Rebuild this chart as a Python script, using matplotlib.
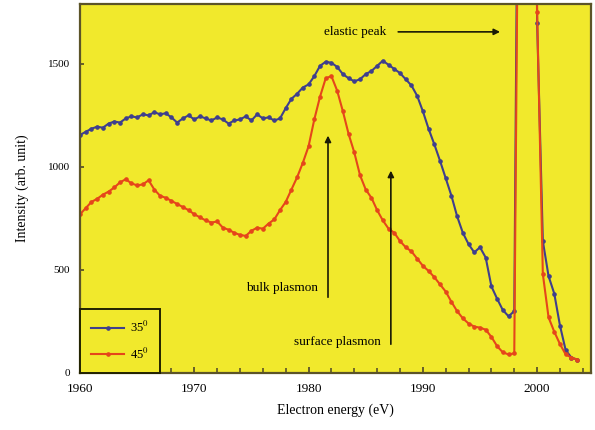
import numpy as np
import matplotlib
matplotlib.use('Agg')
from matplotlib import pyplot as plt
from matplotlib.ticker import MultipleLocator

plt.rcParams['font.family'] = ['Liberation Serif', 'DejaVu Serif']
plt.rcParams['mathtext.fontset'] = 'stix'

# energy grid (eV), 0.5 eV steps
energy = np.arange(1960.0, 2003.75, 0.5)

# 35 degree spectrum
i_35 = [1155, 1170, 1185, 1195, 1190, 1210, 1220, 1215, 1235, 1245,
        1240, 1255, 1250, 1265, 1255, 1260, 1240, 1215, 1235, 1250,
        1230, 1245, 1235, 1225, 1240, 1230, 1210, 1225, 1230, 1245,
        1225, 1255, 1235, 1240, 1225, 1235, 1285, 1330, 1355, 1385,
        1400, 1440, 1490, 1510, 1505, 1485, 1450, 1430, 1415, 1425,
        1450, 1465, 1490, 1515, 1495, 1475, 1455, 1425, 1395, 1345,
        1270, 1185, 1110, 1030, 945, 860, 760, 680, 625, 585,
        610, 560, 420, 360, 305, 275, 300, 4000, 6000, 5000,
        1700, 640, 470, 385, 230, 110, 75, 65]

# 45 degree spectrum
i_45 = [770, 800, 830, 845, 865, 880, 900, 925, 940, 920,
        910, 915, 935, 890, 860, 850, 835, 820, 805, 790,
        770, 755, 740, 730, 735, 705, 695, 680, 670, 665,
        690, 705, 700, 725, 745, 790, 830, 890, 950, 1020,
        1100, 1230, 1340, 1430, 1440, 1370, 1270, 1160, 1070, 960,
        890, 850, 790, 740, 700, 680, 640, 610, 590, 555,
        520, 495, 465, 430, 395, 345, 300, 265, 240, 225,
        220, 210, 175, 130, 100, 90, 95, 3500, 5500, 5000,
        1750, 480, 270, 200, 140, 90, 75, 65]

labels = [r'35$^0$', r'45$^0$']
colors = ['#3f3f8c', '#e5461a']

yellow = '#f1e92c'
spine_c = '#5c5428'

fig = plt.figure(figsize=(5.95, 4.30), dpi=100)
ax = fig.add_axes([0.1345, 0.1326, 0.8585, 0.858])
ax.set_facecolor(yellow)

for y, lab, c in zip([i_35, i_45], labels, colors):
    ax.plot(energy, y, '-o', color=c, lw=1.5, ms=2.3, mec=c, label=lab)

ax.set_xlim(1960, 2004.7)
ax.set_ylim(0, 1790)
ax.xaxis.set_major_locator(MultipleLocator(10))
ax.xaxis.set_minor_locator(MultipleLocator(2))
ax.yaxis.set_major_locator(MultipleLocator(500))

ax.tick_params(axis='both', which='both', direction='in', color=spine_c)
ax.tick_params(axis='x', which='major', length=4, width=1.3, labelsize=9.5, pad=7)
ax.tick_params(axis='x', which='minor', length=3.5, width=1.2)
ax.tick_params(axis='y', which='major', length=3, width=1.3, labelsize=8, pad=7)
for sp in ax.spines.values():
    sp.set_color(spine_c)
    sp.set_linewidth(1.6)

ax.set_xlabel('Electron energy (eV)', fontsize=10, labelpad=6)
ax.set_ylabel('Intensity (arb. unit)', fontsize=10, labelpad=14)

# annotations
arr = dict(arrowstyle='-|>', color='#1a1a05', lw=1.2, mutation_scale=9)
ax.text(1986.8, 1655, 'elastic peak', ha='right', va='center', fontsize=9.5)
ax.annotate('', xy=(1997.0, 1655), xytext=(1987.6, 1655), arrowprops=arr)
ax.text(1980.8, 413, 'bulk plasmon', ha='right', va='center', fontsize=9.5)
ax.annotate('', xy=(1981.7, 1165), xytext=(1981.7, 354), arrowprops=arr)
ax.text(1986.3, 150, 'surface plasmon', ha='right', va='center', fontsize=9.5)
ax.annotate('', xy=(1987.2, 995), xytext=(1987.2, 126), arrowprops=arr)

leg = ax.legend(loc='lower left', borderaxespad=0, numpoints=1, fontsize=9,
                fancybox=False, framealpha=1, facecolor=yellow,
                edgecolor='#222200', handlelength=2.6, borderpad=0.9,
                labelspacing=0.9, handletextpad=0.5)
leg.get_frame().set_linewidth(1.4)

fig.savefig('out.png', dpi=100, facecolor='white')
